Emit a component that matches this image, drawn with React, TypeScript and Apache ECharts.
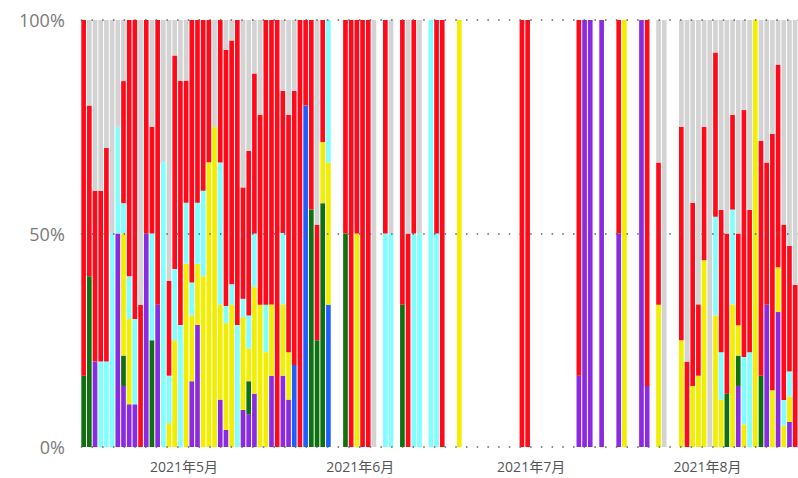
import React, { useEffect, useRef } from "react";
import * as echarts from "echarts";

// 126 consecutive days starting 2021-04-14; 0 = no data that day
const startDate = "2021-04-14";
const dayCount = 126;

const purple = [
  0, 0, 20, 0, 0, 0, 50, 14.3, 10, 10, 0, 50, 0, 33.3, 0, 0, 0, 0, 0, 15.4,
  28.6, 0, 0, 0, 11.1, 4, 0, 0, 8.7, 7.7, 12.5, 0, 0, 16.7, 0, 16.7, 11.1, 0, 0, 0,
  0, 0, 0, 0, 0, 0, 0, 0, 0, 0, 0, 0, 0, 0, 0, 0, 0, 0, 0, 0,
  0, 0, 0, 0, 0, 0, 0, 0, 0, 0, 0, 0, 0, 0, 0, 0, 0, 0, 0, 0,
  0, 0, 0, 0, 0, 0, 0, 16.7, 100, 100, 0, 100, 0, 0, 50, 0, 0, 0, 100, 14.3,
  0, 0, 0, 0, 0, 0, 0, 0, 0, 0, 0, 0, 0, 0, 0, 14.3, 0, 0, 0, 0,
  33.3, 0, 31.6, 0, 5.9, 0,
];
const green = [
  16.7, 40, 0, 0, 0, 0, 0, 7.1, 0, 0, 0, 0, 25, 0, 0, 0, 0, 0, 0, 0,
  0, 0, 0, 0, 0, 0, 0, 0, 0, 7.7, 0, 0, 0, 0, 0, 0, 0, 0, 0, 0,
  55.6, 25, 57.1, 0, 0, 0, 50, 0, 0, 0, 0, 0, 0, 0, 0, 0, 33.3, 0, 0, 0,
  0, 0, 0, 0, 0, 0, 0, 0, 0, 0, 0, 0, 0, 0, 0, 0, 0, 0, 0, 0,
  0, 0, 0, 0, 0, 0, 0, 0, 0, 0, 0, 0, 0, 0, 0, 0, 0, 0, 0, 0,
  0, 0, 0, 0, 0, 0, 0, 0, 0, 0, 0, 0, 0, 12.5, 0, 7.1, 0, 0, 0, 16.7,
  0, 0, 0, 0, 0, 0,
];
const blue = [
  0, 0, 0, 0, 0, 0, 0, 0, 0, 0, 0, 0, 0, 0, 0, 0, 0, 0, 0, 0,
  0, 0, 0, 0, 0, 0, 0, 0, 0, 0, 0, 0, 0, 0, 0, 0, 0, 19.2, 0, 80,
  0, 0, 0, 33.3, 0, 0, 0, 0, 0, 0, 0, 0, 0, 0, 0, 0, 0, 0, 0, 0,
  0, 0, 0, 0, 0, 0, 0, 0, 0, 0, 0, 0, 0, 0, 0, 0, 0, 0, 0, 0,
  0, 0, 0, 0, 0, 0, 0, 0, 0, 0, 0, 0, 0, 0, 0, 0, 0, 0, 0, 0,
  0, 0, 0, 0, 0, 0, 0, 0, 0, 0, 0, 0, 0, 0, 0, 0, 0, 0, 0, 0,
  0, 0, 0, 0, 0, 0,
];
const yellow = [
  0, 0, 0, 0, 0, 0, 0, 28.6, 20, 0, 0, 0, 0, 0, 0, 5.6, 25, 0, 42.9, 15.4,
  14.3, 40, 66.7, 75, 22.2, 25, 33.3, 0, 21.7, 7.7, 25, 33.3, 22.2, 16.7, 0, 16.7, 11.1, 0, 0, 0,
  0, 0, 14.3, 33.3, 0, 0, 0, 0, 50, 0, 0, 0, 0, 0, 0, 0, 0, 0, 0, 0,
  0, 0, 0, 0, 0, 0, 100, 0, 0, 0, 0, 0, 0, 0, 0, 0, 0, 0, 0, 0,
  0, 0, 0, 0, 0, 0, 0, 0, 0, 0, 0, 0, 0, 0, 0, 100, 0, 0, 0, 0,
  0, 33.3, 0, 0, 0, 25, 0, 14.3, 16.7, 43.75, 0, 30.8, 11.1, 0, 33.4, 7.1, 5.3, 0, 100, 0,
  0, 13.3, 10.5, 5, 5.9, 0,
];
const cyan = [
  0, 0, 0, 20, 20, 50, 25, 7.1, 10, 20, 0, 0, 25, 0, 66.7, 11.1, 16.7, 28.6, 14.3, 7.7,
  14.3, 20, 0, 0, 33.3, 4, 4.8, 28.6, 4.3, 7.7, 12.5, 0, 11.1, 0, 0, 16.7, 0, 0, 0, 0,
  0, 0, 0, 33.4, 0, 0, 0, 0, 0, 0, 0, 0, 0, 50, 50, 0, 0, 0, 50, 50,
  0, 100, 50, 0, 0, 0, 0, 0, 0, 0, 0, 0, 0, 0, 0, 0, 0, 0, 0, 0,
  0, 0, 0, 0, 0, 0, 0, 0, 0, 0, 0, 0, 0, 0, 0, 0, 0, 0, 0, 0,
  0, 0, 0, 0, 0, 0, 0, 0, 0, 0, 0, 23.1, 11.1, 0, 22.2, 0, 15.8, 22.2, 0, 0,
  0, 0, 0, 6, 5.9, 0,
];
const red = [
  83.3, 40, 40, 40, 50, 0, 0, 28.6, 60, 70, 33.3, 50, 25, 66.7, 0, 22.2, 50, 57.1, 28.6, 61.5,
  42.8, 40, 33.3, 0, 33.4, 60, 57.1, 71.4, 26.1, 38.5, 37.5, 44.5, 66.7, 66.6, 100, 33.3, 55.6, 64.2, 100, 20,
  44.4, 27, 28.6, 0, 0, 0, 50, 100, 50, 100, 100, 0, 0, 50, 0, 0, 66.7, 50, 50, 0,
  0, 0, 50, 100, 0, 0, 0, 0, 0, 0, 0, 0, 0, 0, 0, 0, 0, 100, 100, 0,
  0, 0, 0, 0, 0, 0, 0, 83.3, 0, 0, 0, 0, 0, 0, 50, 0, 0, 0, 0, 85.7,
  0, 33.3, 0, 0, 0, 50, 20, 42.9, 16.7, 31.25, 0, 38.5, 33.3, 37.5, 22.2, 21.5, 57.8, 33.3, 0, 55,
  33.3, 60, 47.4, 41, 29.4, 38,
];
const gray = [
  0, 20, 40, 40, 30, 50, 25, 14.3, 0, 0, 66.7, 0, 25, 0, 33.3, 61.1, 8.3, 14.3, 14.2, 0,
  0, 0, 0, 25, 0, 7, 4.8, 0, 39.2, 30.7, 12.5, 22.2, 0, 0, 0, 16.6, 22.2, 16.6, 0, 0,
  0, 48, 0, 0, 0, 0, 0, 0, 0, 0, 0, 100, 0, 0, 50, 0, 0, 50, 0, 50,
  0, 0, 0, 0, 0, 0, 0, 0, 0, 0, 0, 0, 0, 0, 0, 0, 0, 0, 0, 0,
  0, 0, 0, 0, 0, 0, 0, 0, 0, 0, 0, 0, 0, 0, 0, 0, 0, 0, 0, 0,
  0, 33.4, 100, 0, 0, 25, 80, 42.8, 66.6, 25, 100, 7.6, 44.5, 50, 22.2, 50, 21.1, 44.5, 0, 28.3,
  33.4, 26.7, 10.5, 48, 52.9, 62,
];

const seriesDefs = [
  { name: "purple", data: purple, color: "#8A2BE2" },
  { name: "green", data: green, color: "#0F700F" },
  { name: "blue", data: blue, color: "#1E5EFF" },
  { name: "yellow", data: yellow, color: "#F2EE00" },
  { name: "cyan", data: cyan, color: "#80FFFF" },
  { name: "red", data: red, color: "#FF0A1A" },
  { name: "gray", data: gray, color: "#D3D3D3" },
];

function buildDates(): string[] {
  const out: string[] = [];
  const d = new Date(startDate + "T00:00:00Z");
  for (let i = 0; i < dayCount; i++) {
    const y = d.getUTCFullYear();
    const m = d.getUTCMonth() + 1;
    const day = d.getUTCDate();
    out.push(`${y}-${String(m).padStart(2, "0")}-${String(day).padStart(2, "0")}`);
    d.setUTCDate(d.getUTCDate() + 1);
  }
  return out;
}

export default function App() {
  const ref = useRef<HTMLDivElement>(null);
  useEffect(() => {
    if (!ref.current) return;
    const chart = echarts.init(ref.current, null, { renderer: "svg" });
    const dates = buildDates();
    chart.setOption({
      animation: false,
      backgroundColor: "#ffffff",
      grid: { left: 80.8, right: -2.9, top: 20, bottom: 31, containLabel: false },
      xAxis: {
        type: "category",
        data: dates,
        axisLine: { show: false },
        axisTick: { show: false },
        splitLine: { show: false },
        axisLabel: {
          interval: (_i: number, v: string) => v.endsWith("-01"),
          formatter: (v: string) => {
            const [y, m] = v.split("-");
            return `${y}年${parseInt(m, 10)}月`;
          },
          fontSize: 14,
          color: "#555555",
          margin: 12,
          padding: [0, 0, 0, 7],
          fontFamily: "'Open Sans', 'Noto Sans CJK JP', sans-serif",
        },
      },
      yAxis: {
        type: "value",
        min: 0,
        max: 100,
        interval: 50,
        z: 5,
        axisLine: { show: false },
        axisTick: { show: false },
        axisLabel: {
          formatter: "{value}%",
          fontSize: 18,
          color: "#7a7a7a",
          margin: 16,
          fontFamily: "'Open Sans', sans-serif",
        },
        splitLine: {
          show: true,
          lineStyle: { color: "#606060", width: 1.5, type: [1.5, 9.2] },
        },
      },
      series: seriesDefs.map((s) => ({
        name: s.name,
        type: "bar",
        stack: "total",
        barCategoryGap: "18%",
        itemStyle: { color: s.color },
        data: s.data.map((v) => (v === 0 ? null : v)),
      })),
    });
    return () => chart.dispose();
  }, []);
  return (
    <div
      ref={ref}
      style={{ position: "fixed", left: 0, top: 0, width: 798, height: 478, background: "#fff" }}
    />
  );
}
